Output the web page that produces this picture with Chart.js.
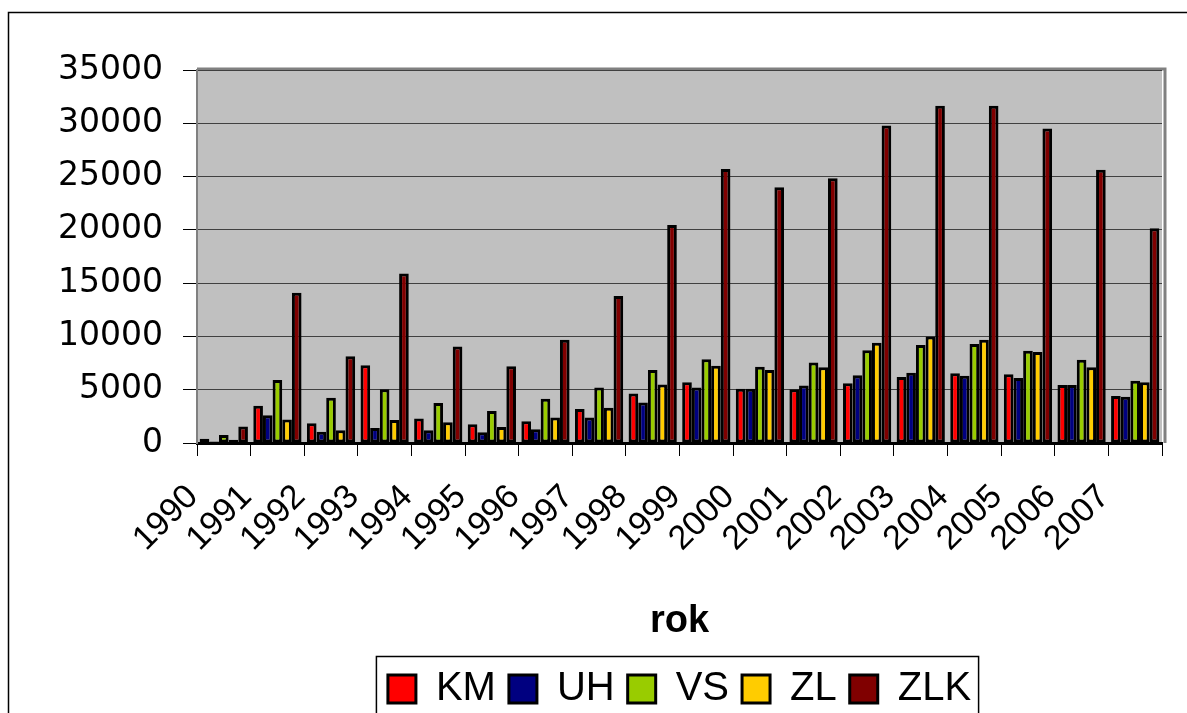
<!DOCTYPE html>
<html>
<head>
<meta charset="utf-8">
<script src="https://cdn.jsdelivr.net/npm/chart.js@4.4.0/dist/chart.umd.min.js"></script>
<style>
body{margin:0;background:#fff;}
</style>
</head>
<body>
<canvas id="myChart" width="1187" height="713"></canvas>
<script>
//Years on the x axis
const years=['1990','1991','1992','1993','1994','1995','1996','1997','1998','1999','2000','2001','2002','2003','2004','2005','2006','2007'];
//Values, one array per district
const KM=[400,3500,1850,7300,2300,1750,2050,3200,4650,5700,5100,5050,5600,6200,6550,6450,5450,4400];
const UH=[150,2600,1050,1400,1200,1000,1300,2400,3800,5200,5100,5400,6350,6600,6300,6100,5450,4350];
const VS=[750,5900,4250,5050,3750,3000,4150,5200,6850,7850,7150,7550,8700,9200,9300,8650,7800,5850];
const ZL=[300,2200,1200,2150,1950,1500,2400,3300,5500,7250,6850,7100,9400,10000,9700,8550,7100,5700];
const ZLK=[1550,14100,8150,15900,9050,7200,9700,13800,20450,25700,24000,24850,29800,31650,31650,29500,25650,20150];
//y axis ticks
const yTicks=[0,5000,10000,15000,20000,25000,30000,35000];

const fam='"Liberation Sans", Arial, sans-serif';
Chart.defaults.font.family=fam;
Chart.defaults.color='#000';

//Gray plot wall, outer frame and legend frame like the old excel chart
const excelLook={
    id:'excelLook',
    beforeDraw(chart){
        const ctx=chart.ctx;
        const a=chart.chartArea;
        ctx.save();
        ctx.fillStyle='#fff';
        ctx.fillRect(0,0,chart.width,chart.height);
        ctx.strokeStyle='#000';
        ctx.lineWidth=1.5;
        ctx.strokeRect(8.5,12.5,chart.width+20,chart.height+20);
        ctx.fillStyle='#C0C0C0';
        ctx.fillRect(a.left,a.top,a.right-a.left,a.bottom-a.top);
        ctx.strokeStyle='#808080';
        ctx.lineWidth=3;
        ctx.beginPath();
        ctx.moveTo(a.left,a.top-1);
        ctx.lineTo(a.right+3,a.top-1);
        ctx.lineTo(a.right+3,a.bottom);
        ctx.stroke();
        ctx.restore();
    },
    afterDraw(chart){
        const hb=chart.legend.legendHitBoxes;
        if(!hb||!hb.length) return;
        const first=hb[0];
        const last=hb[hb.length-1];
        const ctx=chart.ctx;
        ctx.save();
        ctx.strokeStyle='#000';
        ctx.lineWidth=1.5;
        ctx.strokeRect(first.left-11.5,first.top-12.5,last.left+last.width+19-first.left,90);
        ctx.restore();
    }
};

function makeSet(label,values,color){
    return {
        label:label,
        data:values,
        backgroundColor:color,
        borderColor:'#000',
        borderWidth:3,
        borderSkipped:false,
        categoryPercentage:0.9,
        barPercentage:1.0
    };
}

const data={
    labels:years,
    datasets:[
        makeSet('KM',KM,'#FF0000'),
        makeSet('UH',UH,'#000080'),
        makeSet('VS',VS,'#99CC00'),
        makeSet('ZL',ZL,'#FFCC00'),
        makeSet('ZLK',ZLK,'#800000')
    ]
};

const config={
    type:'bar',
    data:data,
    plugins:[excelLook],
    options:{
        responsive:false,
        animation:false,
        layout:{padding:{top:70,right:25,bottom:-6,left:0}},
        plugins:{
            tooltip:{enabled:false},
            legend:{
                position:'bottom',
                fullSize:false,
                labels:{boxWidth:28,boxHeight:28,padding:13,color:'#000',font:{size:40}}
            }
        },
        scales:{
            x:{
                grid:{display:true,drawOnChartArea:false,offset:true,tickLength:13,color:'#000',lineWidth:1},
                border:{color:'#000',width:3},
                ticks:{font:{size:34},color:'#000',minRotation:45,maxRotation:45,autoSkip:false,labelOffset:-31,padding:21},
                title:{display:true,text:'rok',color:'#000',font:{size:38,weight:'bold'},padding:{top:0,bottom:12}},
                afterFit(scale){scale.height=213;}
            },
            y:{
                min:0,
                max:35000,
                afterBuildTicks(scale){scale.ticks=yTicks.map(v=>({value:v}));},
                //wide font, the excel labels are stretched sideways
                ticks:{font:{size:33,family:'"DejaVu Sans", sans-serif'},color:'#000',padding:20,callback:v=>String(v)},
                grid:{color:'#404040',lineWidth:1,tickLength:14,tickColor:'#000'},
                border:{color:'#808080',width:2},
                afterFit(scale){scale.width=197;}
            }
        }
    }
};

const myChart=new Chart(document.getElementById('myChart'),config);
</script>
</body>
</html>
